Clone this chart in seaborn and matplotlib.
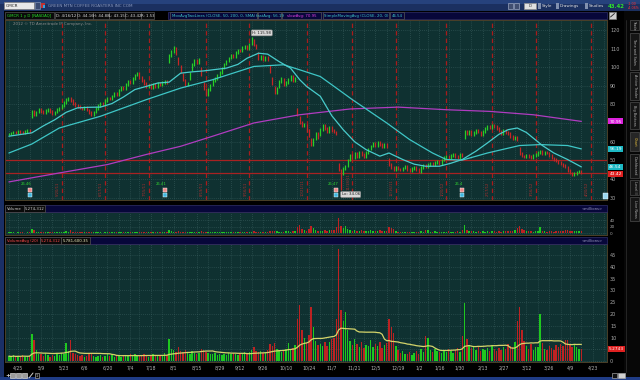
import numpy as np
import pandas as pd
import matplotlib
matplotlib.use("Agg")
import matplotlib.pyplot as plt
from matplotlib.patches import Rectangle
import seaborn as sns

# ------------------------------------------------------------------ data
close = [
    64.2, 64.8, 65.3, 64.9, 65.6, 65.1, 64.7, 65.4, 65.9, 65.2,
    76.5, 74.8, 75.9, 77.2, 76.4, 75.6, 76.8, 77.5, 76.1, 75.3, 76.0, 77.4, 78.2,
    79.5, 81.2, 82.6, 83.4, 82.1, 80.4, 79.6, 78.9,
    78.2, 77.5, 78.6, 77.1, 75.8, 74.3, 75.9, 77.8,
    79.6, 80.8, 80.1, 82.3, 83.5, 82.9,
    84.6, 86.1, 85.4, 87.8, 89.2, 88.5, 90.6, 92.3, 91.7, 94.1, 95.8, 96.9,
    94.5, 92.8, 91.2, 89.4, 90.3, 88.9, 90.7, 89.8, 91.4,
    90.6, 91.8, 92.4, 91.5,
    106.2, 108.5, 110.4, 107.3,
    101.8, 97.5, 93.2, 90.4, 91.6,
    96.8, 101.5, 103.7, 102.4, 104.1,
    96.2, 88.5, 85.3, 87.9,
    90.4, 92.8, 94.1, 95.6, 97.3,
    99.5, 101.8, 103.4, 104.9, 106.2, 105.5,
    107.8, 109.3, 108.6, 110.5, 111.2, 109.9,
    112.4, 114.6, 111.8, 110.2,
    104.6, 106.1, 103.8, 105.4, 104.2,
    97.6, 91.3, 86.2, 88.7,
    92.4, 94.1, 90.6, 91.8, 93.5, 95.2, 92.7, 93.9,
    74.5, 70.2, 68.4,
    69.2, 66.1, 63.4, 58.2, 61.5, 64.8, 62.3, 66.7, 68.9, 67.1, 65.4, 67.8, 65.9,
    65.2, 64.4,
    44.9, 42.8, 45.6, 47.1,
    50.3, 52.7, 51.4, 53.8, 52.2, 54.6, 53.1, 51.9, 54.3,
    56.2, 57.8, 59.4, 58.1, 59.9, 58.6, 57.3, 58.8, 57.6,
    47.8,
    46.2, 45.1, 46.5, 45.4, 44.8, 45.9, 46.7, 45.3, 44.6, 45.8, 46.3, 45.1, 44.2, 46.1, 47.3, 46.8,
    47.9, 48.6, 47.5, 48.9, 49.6, 48.4,
    50.2, 51.6, 52.4, 51.3, 52.8, 53.4, 52.1, 51.7, 53.2, 52.6,
    65.4,
    64.1, 65.8, 63.7, 64.9, 66.3, 65.2, 63.9, 65.6,
    67.2, 68.4, 67.6, 69.1, 68.3, 67.0,
    65.8, 64.6, 66.2, 65.1, 64.3,
    62.8, 61.9, 62.5, 61.2,
    53.6,
    52.4, 51.8, 52.9, 52.1, 51.5, 52.6, 53.1,
    54.2, 54.8, 53.7, 54.5, 53.9, 52.8,
    51.4, 50.6, 49.8, 48.9, 48.1, 47.2, 46.4,
    44.5, 43.2, 42.6, 43.1, 43.9, 44.2, 43.42,
]

volume = [  # millions of shares
    2.1, 1.8, 2.4, 1.6, 2.2, 1.9, 2.6, 1.7, 2.0, 2.3,
    11.5, 9.0, 4.5, 3.2, 2.8, 2.1, 3.5, 2.4, 1.9, 2.7, 2.2, 3.1, 2.5,
    3.3, 2.9, 7.5, 4.1, 9.0, 3.6, 2.8, 2.4,
    2.1, 2.6, 1.9, 2.3, 2.8, 3.4, 2.2, 1.8,
    2.0, 2.5, 1.7, 2.2, 2.9, 2.1,
    2.4, 1.9, 2.6, 2.2, 1.8, 2.7, 2.3, 2.0, 2.8, 2.4, 3.1, 2.2,
    2.6, 2.1, 2.9, 2.4, 1.9, 2.3, 2.8, 2.0, 2.5,
    2.2, 2.7, 3.3, 2.4,
    9.5, 5.2, 4.6, 3.8,
    6.1, 4.3, 3.9, 4.8, 3.5,
    3.2, 4.1, 3.6, 2.9, 3.4,
    5.2, 4.6, 3.8, 3.3,
    3.1, 2.8, 3.5, 2.6, 3.0,
    2.7, 3.2, 2.5, 3.6, 2.9, 3.3,
    3.0, 2.6, 3.4, 2.8, 3.7, 3.1,
    3.9, 4.6, 5.8, 4.2,
    3.7, 4.1, 3.4, 3.9, 4.5,
    7.2, 6.5, 7.8, 5.1,
    4.6, 3.9, 4.4, 5.2, 7.5, 4.8, 5.6, 6.9,
    18.0, 24.0, 13.0,
    9.8, 7.6, 11.2, 23.0, 14.5, 8.4, 6.9, 7.4, 6.2, 8.1, 6.6, 7.9, 9.4,
    9.7, 18.0,
    47.5, 21.6, 17.0, 21.0,
    13.0, 8.6, 6.9, 9.2, 7.4, 6.1, 8.3, 5.7, 7.0,
    6.4, 8.8, 5.9, 7.2, 6.3, 8.1, 5.4, 6.8, 7.7,
    18.0,
    14.5, 11.8, 6.2, 4.8, 3.6, 4.1, 3.2, 2.8, 3.9, 2.6, 3.4, 4.2, 3.1, 5.3, 3.8, 10.6,
    9.8, 4.6, 3.9, 5.2, 4.1, 3.7,
    3.3, 4.5, 3.8, 5.1, 4.2, 3.6, 4.8, 5.6, 3.9, 10.6,
    24.5,
    9.2, 6.8, 5.4, 6.1, 4.7, 5.9, 4.3, 5.2,
    4.8, 5.6, 4.1, 6.3, 5.0, 4.4,
    5.7, 4.6, 6.0, 5.3, 7.1,
    6.4, 5.8, 8.2, 17.0,
    23.0,
    13.0, 8.4, 6.2, 5.1, 7.3, 4.6, 5.8,
    6.1, 20.0, 7.6, 5.2, 4.8, 6.3,
    5.5, 4.7, 6.8, 5.9, 7.2, 6.4, 8.9,
    9.0, 6.7, 5.8, 7.4, 6.1, 5.3, 5.27,
]

sma20_day = [0, 10, 15, 20, 25, 30, 35, 40, 45, 50, 55, 60, 65, 70, 75, 80, 85, 89, 95, 100,
             104, 109, 113, 118, 123, 127, 130, 136, 141, 146, 151, 156, 162, 166, 172, 177,
             182, 188, 193, 198, 204, 209, 214, 218, 222, 226, 229, 233, 238, 244, 250]
sma20_val = [63.0, 64.8, 68.5, 71.8, 75.8, 78.2, 78.5, 78.6, 80.5, 84.0, 88.0, 89.7, 91.5, 92.0,
             96.8, 97.5, 98.0, 98.6, 99.5, 101.5, 104.8, 107.5, 107.0, 103.0, 99.5, 93.3, 89.7,
             84.4, 74.0, 66.5, 60.0, 55.8, 52.3, 54.0, 50.5, 48.0, 46.9, 46.9, 48.5, 50.5, 55.0,
             59.4, 64.0, 66.5, 67.4, 65.0, 62.0, 58.0, 54.0, 50.5, 46.54]

sma50_day = [0, 10, 22, 40, 60, 75, 89, 107, 120, 127, 136, 141, 150, 165, 175, 185, 191, 198,
             209, 223, 232, 244, 250]
sma50_val = [54.0, 58.8, 67.4, 73.7, 82.6, 88.8, 93.3, 100.4, 101.3, 98.6, 95.0, 90.6, 82.6,
             70.1, 61.2, 54.0, 50.5, 50.2, 54.0, 58.0, 58.5, 58.0, 56.19]

sma200_day = [0, 22, 43, 60, 75, 89, 107, 127, 149, 170, 191, 210, 229, 250]
sma200_val = [38.5, 43.3, 47.8, 53.2, 57.6, 63.0, 70.1, 74.5, 77.6, 78.6, 77.2, 76.3, 74.5, 70.95]

holidays = ["2011-04-22", "2011-05-30", "2011-07-04", "2011-09-05", "2011-11-24",
            "2011-12-26", "2012-01-02", "2012-01-16", "2012-02-20", "2012-04-06"]

tick_labels = ["4/25", "5/9", "5/23", "6/6", "6/20", "7/4", "7/18", "8/1", "8/15", "8/29",
               "9/12", "9/26", "10/10", "10/24", "11/7", "11/21", "12/5", "12/19", "1/2",
               "1/16", "1/30", "2/13", "2/27", "3/12", "3/26", "4/9", "4/23"]
tick_dates = ["2011-04-25", "2011-05-09", "2011-05-23", "2011-06-06", "2011-06-20",
              "2011-07-04", "2011-07-18", "2011-08-01", "2011-08-15", "2011-08-29",
              "2011-09-12", "2011-09-26", "2011-10-10", "2011-10-24", "2011-11-07",
              "2011-11-21", "2011-12-05", "2011-12-19", "2012-01-02", "2012-01-16",
              "2012-01-30", "2012-02-13", "2012-02-27", "2012-03-12", "2012-03-26",
              "2012-04-09", "2012-04-23"]

expiry_dates = ["2011-05-20", "2011-06-17", "2011-07-15", "2011-08-19", "2011-09-16",
                "2011-10-21", "2011-11-18", "2011-12-16", "2012-01-20", "2012-02-17",
                "2012-03-16", "2012-04-20"]
expiry_labels = ["5/20/11", "6/17/11", "7/15/11", "8/19/11", "9/16/11", "10/21/11",
                 "11/18/11", "12/16/11", "1/20/12", "2/17/12", "3/16/12", "4/20/12"]

earn_days = [9, 68, 143, 198]
earn_text = ["26.46", "26.41", "26.47", "26.4"]

price_ticks = [30, 40, 50, 60, 70, 80, 90, 100, 110, 120]
price_tick_labels = ["30", "40", "50", "60", "", "80", "90", "100", "110", "120"]
vavg_ticks = [0, 5, 10, 15, 20, 25, 30, 35, 40, 45]
vavg_tick_labels = ["0", "", "10", "15", "20", "25", "30", "35", "40", "45"]
level_lines = [50.5, 43.42]
hi_day, hi_val = 106, 115.98
lo_day, lo_val = 145, 34.06

# ------------------------------------------------------------------ style
sns.set_theme(style="dark")
plt.rcParams['font.family'] = ['DejaVu Sans', 'Noto Sans']

W, H = 640, 380
BG = "#0f3131"
GRID = "#3b6060"
UP = "#27cf27"
DN = "#c62626"
CYAN = "#3ec6c6"
MAG = "#b03cc0"
EXPC = "#a81c1c"
SPINE = "#4a3f28"

N = min(len(close), len(volume))
c = np.array(close[:N], float)
v = np.array(volume[:N], float)
days = np.arange(N)

cal = pd.bdate_range("2011-04-18", "2012-05-10", freq="C", holidays=holidays)


def pos(d):
    return int(cal.searchsorted(pd.Timestamp(d)))


tick_pos = [pos(d) for d in tick_dates]
exp_pos = [pos(d) for d in expiry_dates]
week_pos = [pos(d) for d in pd.date_range("2011-04-18", "2012-04-30", freq="W-MON")]

fig = plt.figure(figsize=(W / 100, H / 100), dpi=100, facecolor="black")


def fbox(x0, y0, x1, y1):
    return [x0 / W, 1 - y1 / H, (x1 - x0) / W, (y1 - y0) / H]


bg = fig.add_axes([0, 0, 1, 1], zorder=-10)
bg.set_xlim(0, W); bg.set_ylim(H, 0); bg.axis("off")
top = fig.add_axes([0, 0, 1, 1], zorder=20)
top.set_xlim(0, W); top.set_ylim(H, 0); top.axis("off")


def rect(ax, x0, y0, x1, y1, fc, ec="none", lw=0.5, z=1):
    ax.add_patch(Rectangle((x0, y0), x1 - x0, y1 - y0, facecolor=fc, edgecolor=ec, lw=lw, zorder=z))


def hbox(x0, x1, y0, y1, txt, color, fc="#0a0a0a", ec="#555555", fs=2.8):
    rect(top, x0, y0, x1, y1, fc, ec, 0.5)
    top.text((x0 + x1) / 2, (y0 + y1) / 2 + 0.3, txt, color=color, fontsize=fs,
             ha="center", va="center")


# ---------------------------------------------------------------- chrome
rect(bg, 0, 0, W, 11, "#1b3060")
rect(bg, 0, 0, W, 4, "#26427c")
rect(bg, 624, 11, W, H, "#070707")
rect(bg, 0, 11, 4, H, "#1a2f66")
rect(bg, 0, 377, W, H, "#1f3c86")

# title bar
rect(top, 4, 2, 34, 9, "#e8e8e8", "#808080")
top.text(6, 5.8, "GMCR", fontsize=3.0, color="#202020", va="center")
rect(top, 35, 2, 40, 9, "#3a4a70", "#8090b0")
rect(top, 41, 3, 45, 8, "#c03030")
rect(top, 43, 5, 45, 8, "#30a0e0")
top.text(48, 5.8, "GREEN MTN COFFEE ROASTERS INC COM", fontsize=3.0, color="#8a9ac0", va="center")
for xi in (508, 514):
    rect(top, xi, 2.5, xi + 5, 8.5, "#404e70", "#9aa6c0")
rect(top, 524, 2.5, 536, 8.5, "#e0e0e0", "#909090")
top.text(530, 5.8, "D", fontsize=2.8, color="#303030", ha="center", va="center")
top.text(542, 5.8, "Style", fontsize=3.0, color="#e0e0e0", va="center")
top.text(560, 5.8, "Drawings", fontsize=3.0, color="#e0e0e0", va="center")
top.text(589, 5.8, "Studies", fontsize=3.0, color="#e0e0e0", va="center")
for xi in (538, 556, 585):
    rect(top, xi, 2.5, xi + 3, 8.5, "#8090b0")
top.text(608, 6.0, "43.42", fontsize=3.9, color="#2ee02e", va="center", weight="bold")
top.text(627.5, 3.8, "-1.00", fontsize=2.4, color="#ff3030", va="center")
top.text(627.5, 8.2, "-4.06%", fontsize=2.4, color="#ff3030", va="center")

# header row
rect(top, 168, 12, 607, 18.5, "#07073a", "#30306a")
hbox(5, 54, 12, 18.5, "GMCR 1 y D [NASDAQ]", "#27e027")
hbox(55, 77, 12, 18.5, "D: 4/16/12", "#d8d8d8")
hbox(77, 93, 12, 18.5, "O: 44.16", "#d8d8d8")
hbox(93, 109, 12, 18.5, "H: 44.88", "#d8d8d8")
hbox(109, 125, 12, 18.5, "L: 43.15", "#d8d8d8")
hbox(125, 141, 12, 18.5, "C: 43.42", "#d8d8d8")
hbox(141, 154, 12, 18.5, "R: 1.53", "#d8d8d8")
hbox(170, 257, 12, 18.5, "MovAvgTwoLines (CLOSE, 50, 200, 0, SMA)", CYAN, fc="#07073a")
hbox(258, 281, 12, 18.5, "fastAvg: 56.19", CYAN, fc="#07073a")
hbox(282, 321, 12, 18.5, "slowAvg: 70.95", "#e040e0", fc="#07073a")
hbox(323, 389, 12, 18.5, "SimpleMovingAvg (CLOSE, 20, 0)", CYAN, fc="#07073a")
hbox(390, 404, 12, 18.5, "46.54", CYAN, fc="#07073a")
rect(top, 609, 12, 616, 18.5, "#d0d0d0", "#808080")
top.plot([610.5, 614.5], [17, 13.5], color="#202020", lw=0.6)

# right side tabs
tabs = [("Trade", 20, 30), ("Time and Sales", 33, 70), ("Active Trader", 72, 100),
        ("Big Buttons", 102, 129), ("Chart", 132, 151), ("Dashboard", 154, 178),
        ("Level II", 180, 195), ("Live News", 197, 221)]
for name, y0, y1 in tabs:
    active = name == "Chart"
    rect(top, 630, y0, 639, y1, "#262626" if active else "#151515", "#4c4c4c", 0.5)
    top.text(634.5, (y0 + y1) / 2, name, fontsize=2.5, rotation=270,
             color="#e8c040" if active else "#b4b4b4", ha="center", va="center")
top.plot([626, 626], [20, 372], color="#2a2a2a", lw=0.6)

# bottom toolbar
top.text(5, 375.5, "+", fontsize=4.5, color="#d0d0d0", va="center", weight="bold")
for xi in (10, 16, 22):
    rect(top, xi, 373, xi + 5, 378, "#9a9a9a", "#d0d0d0")
top.plot([29, 33], [378, 373], color="#d0d0d0", lw=0.7)
rect(top, 35, 373, 39, 378, "#101010", "#a0a0a0")
top.text(37, 375.7, "1", fontsize=2.4, color="#d0d0d0", ha="center", va="center")
rect(top, 612, 372.5, 617, 378, "#101010", "#a0a0a0")
rect(top, 618, 372.5, 625, 378, "#d0d0d0", "#a0a0a0")


def style_panel(ax):
    ax.set_facecolor(BG)
    for s in ax.spines.values():
        s.set_color(SPINE)
        s.set_linewidth(0.7)
    ax.set_xlim(-1.7, 261.2)
    ax.yaxis.tick_right()
    ax.tick_params(axis="y", length=0, pad=2.2, labelsize=3.5, labelcolor="#a8a8a8")
    ax.tick_params(axis="x", which="both", length=0)
    ax.set_xticks(week_pos, minor=True)
    ax.grid(True, which="both", color=GRID, linestyle=(0, (1, 2)), linewidth=0.5)
    ax.set_xlabel(""); ax.set_ylabel("")


# ------------------------------------------------------------- price panel
axp = fig.add_axes(fbox(5, 20, 607, 200))
style_panel(axp)
axp.set_ylim(28.8, 125.3)
axp.set_yticks(price_ticks)
axp.set_yticklabels(price_tick_labels)
axp.set_xticks(tick_pos)
axp.tick_params(axis="x", labelbottom=False)

for xp in exp_pos:
    axp.axvline(xp, color=EXPC, lw=0.9, linestyle=(0, (3.5, 2.5)), zorder=2)
for xp, lab in zip(exp_pos, expiry_labels):
    ybase = 34.3 if abs(xp - lo_day) < 8 else 31.2
    axp.text(xp - 0.9, ybase, lab, rotation=90, fontsize=2.7, color="#a83030",
             ha="right", va="bottom", zorder=3)

for lv in level_lines:
    axp.axhline(lv, color="#a82222", lw=0.9, zorder=2)

prev = np.r_[c[0], c[:-1]]
up = c >= prev
start = np.clip(prev, c - 3.0, c + 3.0)
lo = np.minimum(start, c) - 0.7
hi = np.maximum(start, c) + 0.7
hi[hi_day] = max(hi[hi_day], hi_val)
lo[lo_day] = min(lo[lo_day], lo_val)
axp.vlines(days[up], lo[up], hi[up], colors=UP, lw=0.9, zorder=4)
axp.vlines(days[~up], lo[~up], hi[~up], colors=DN, lw=0.9, zorder=4)

sns.lineplot(x=sma200_day, y=sma200_val, ax=axp, color=MAG, lw=0.9, legend=False, zorder=5)
sns.lineplot(x=sma50_day, y=sma50_val, ax=axp, color=CYAN, lw=0.9, legend=False, zorder=5)
sns.lineplot(x=sma20_day, y=sma20_val, ax=axp, color="#48cccc", lw=0.9, legend=False, zorder=5)
axp.set_xlabel(""); axp.set_ylabel("")

axp.text(hi_day + 0.3, hi_val + 2.4, "H: %.2f" % hi_val, fontsize=2.8, color="#202020",
         ha="left", va="center", zorder=8,
         bbox=dict(boxstyle="round,pad=0.25", fc="#d8d8d8", ec="#8a8a8a", lw=0.4))
axp.text(lo_day + 0.3, lo_val - 2.3, "Lo: %.2f" % lo_val, fontsize=2.8, color="#202020",
         ha="left", va="center", zorder=8,
         bbox=dict(boxstyle="round,pad=0.25", fc="#d8d8d8", ec="#8a8a8a", lw=0.4))

for d, t in zip(earn_days, earn_text):
    axp.text(d - 1.5, 37.2, t, fontsize=2.7, color="#30d830", ha="center", va="center", zorder=8)
    axp.plot([d], [34.4], marker="s", ms=2.8, color="#f08a8a", mec="#ffffff", mew=0.3, zorder=8)
    axp.plot([d], [31.7], marker="s", ms=2.8, color="#40b8e0", mec="#ffffff", mew=0.3, zorder=8)

axp.text(2, 123.2, "2012 \u00a9 TD Ameritrade IP Company, Inc.", fontsize=2.8,
         color="#8c8c8c", ha="left", va="center")


# price axis value boxes
def vbox(yc, txt, fc, tc="white"):
    rect(top, 608, yc - 3.0, 623, yc + 3.0, fc, "none")
    top.text(615.5, yc + 0.2, txt, fontsize=3.2, color=tc, ha="center", va="center")


def py(p):
    return 20 + (125.3 - p) / (125.3 - 28.8) * 180


vbox(py(70.95), "70.95", "#dc22dc")
vbox(py(56.19), "56.19", "#1cb8c4")
vbox(py(46.54) - 0.3, "46.54", "#1cb8c4")
vbox(py(43.42) + 0.9, "43.42", "#e02020")
rect(top, 603, 193, 608, 199, "#9ad8f0", "#ffffff", 0.3)

# -------------------------------------------------------- volume panel
rect(top, 5, 205, 607, 212, "#07073a", "#30306a")
hbox(5, 24, 205, 212, "Volume", "#d0d0d0")
hbox(24, 45, 205, 212, "5,274,312", "#d0d0d0")
top.text(603, 208.8, "<millions>", fontsize=2.7, color="#9a9ac0", ha="right", va="center")

vcol = np.where(up, "#1fc81f", "#bd2222")
axv = fig.add_axes(fbox(5, 212, 607, 235))
style_panel(axv)
axv.bar(days, v, width=0.62, color=vcol, linewidth=0, zorder=3)
axv.set_ylim(-6, 65)
axv.set_yticks([0, 20, 40])
axv.set_yticklabels(["0", "20", "40"])
axv.tick_params(axis="y", labelsize=3.0)
axv.set_xticks(tick_pos)
axv.tick_params(axis="x", labelbottom=False)

# ---------------------------------------------------- volume avg panel
rect(top, 5, 237, 607, 244, "#07073a", "#30306a")
hbox(5, 40, 237, 244, "VolumeAvg (20)", "#ff4a4a")
hbox(40, 61, 237, 244, "5,274,312", "#ff4a4a")
hbox(61, 90, 237, 244, "5,781,600.35", "#f0f0c0")
top.text(603, 240.8, "<millions>", fontsize=2.7, color="#9a9ac0", ha="right", va="center")

axa = fig.add_axes(fbox(5, 244, 607, 362))
style_panel(axa)
axa.bar(days, v, width=0.62, color=vcol, linewidth=0, zorder=3)
vavg = pd.Series(v).rolling(20, min_periods=1).mean()
sns.lineplot(x=days, y=vavg.values, ax=axa, color="#d4d46a", lw=0.9, legend=False, zorder=5)
axa.set_xlabel(""); axa.set_ylabel("")
axa.set_ylim(-0.4, 49.7)
axa.set_yticks(vavg_ticks)
axa.set_yticklabels(vavg_tick_labels)
axa.set_xticks(tick_pos)
axa.set_xticklabels(tick_labels)
axa.tick_params(axis="x", labelsize=3.3, labelcolor="#b4b4b4", pad=2.5)
rect(top, 608, 345.5, 625, 351.5, "#e02020")
top.text(616.5, 348.7, "5.2743", fontsize=3.1, color="white", ha="center", va="center")

fig.savefig("out.png", dpi=100, facecolor="black")
